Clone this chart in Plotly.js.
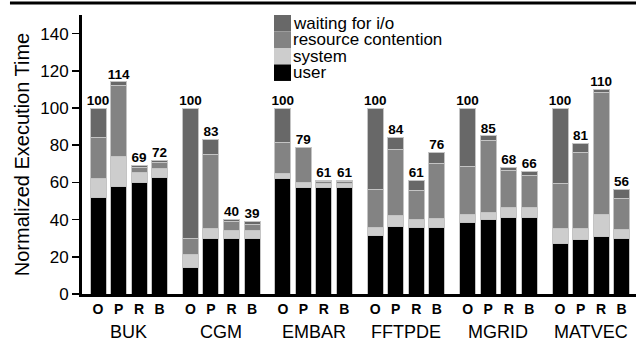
<!DOCTYPE html>
<html>
<head>
<meta charset="utf-8">
<script src="https://cdn.plot.ly/plotly-3.0.1.min.js"></script>
<style>html,body{margin:0;padding:0;background:#fff;}#chart{width:637px;height:345px;}</style>
</head>
<body>
<div id="chart"></div>
<script>
var groups = ["BUK", "CGM", "EMBAR", "FFTPDE", "MGRID", "MATVEC"];
var variants = ["O", "P", "R", "B"];
var yTicks = [0, 20, 40, 60, 80, 100, 120, 140];
var seriesNames = ["user", "system", "resource contention", "waiting for i/o"];
var seriesColors = ["#000000", "#cdcdcd", "#838383", "#686868"];

// values per bar, order: group by group, variants O,P,R,B
var user     = [52, 58, 60, 62.5,   14, 30, 30, 30,     62, 57.5, 57.5, 57.5,  31.5, 36.5, 36, 35.5,  38.5, 40, 41, 41,   27, 29.5, 31, 30];
var system   = [10, 16, 5.5, 5,     7, 5, 4, 4,         3, 2.5, 2, 2,          4.5, 5.5, 4, 5,       4.5, 4, 5.5, 5.5,   8, 5.5, 12, 4.5];
var resource = [22, 38, 2.5, 3,     9, 40, 5, 3.5,      16.5, 19, 0.8, 0.8,    20, 35.5, 15.5, 29.5, 25.5, 38.5, 20, 17, 24.5, 41, 65.5, 17];
var waiting  = [16, 2, 1, 1.5,      70, 8, 1, 1.5,      18.5, 0, 0.7, 0.7,     44, 6.5, 5.5, 6,      31.5, 2.5, 1.5, 2.5, 40.5, 5, 1.5, 4.5];
var totals   = [100, 114, 69, 72,   100, 83, 40, 39,    100, 79, 61, 61,       100, 84, 61, 76,      100, 85, 68, 66,    100, 81, 110, 56];

var FONT = "Liberation Sans, Arial, sans-serif";
var groupStep = 4.5;
var xs = [], xt = [];
groups.forEach(function (g, gi) {
  variants.forEach(function (v, vi) {
    xs.push(gi * groupStep + vi);
    xt.push(v);
  });
});

var outline = {color: "#c4c4c4", width: 1};
var seriesVals = [user, system, resource, waiting];
var data = seriesVals.map(function (vals, i) {
  return {type: "bar", name: seriesNames[i], x: xs, y: vals, width: 0.78,
          marker: {color: seriesColors[i], line: outline}, hoverinfo: "skip", showlegend: false};
});
data.push({type: "scatter", mode: "text", x: xs, y: totals, text: totals.map(String),
   textposition: "top center", showlegend: false, hoverinfo: "skip",
   textfont: {family: FONT, size: 13.5, color: "#000", weight: "bold"},
   cliponaxis: false});

var annotations = groups.map(function (g, gi) {
  return {x: gi * groupStep + 1.5, y: -0.136, xref: "x", yref: "paper", text: g,
          showarrow: false, yanchor: "middle",
          font: {family: FONT, size: 18, color: "#000"}};
});

// manual legend (top entry = last series)
var shapes = [{type: "line", xref: "paper", yref: "paper", x0: -0.13, x1: 1, y0: 1.043, y1: 1.043,
               line: {color: "#000", width: 3}}];
var legX0 = 0.3466, legX1 = 0.3773, legTop = 1.0, legStep = 0.0591;
for (var k = 0; k < seriesNames.length; k++) {
  var idx = seriesNames.length - 1 - k;
  var yt = legTop - k * legStep, yb = yt - legStep;
  shapes.push({type: "rect", xref: "paper", yref: "paper", x0: legX0, x1: legX1, y0: yb, y1: yt,
               fillcolor: seriesColors[idx], line: {width: 0}});
  annotations.push({xref: "paper", yref: "paper", x: 0.378, y: (yt + yb) / 2, xanchor: "left",
                    yanchor: "middle", showarrow: false, text: seriesNames[idx],
                    font: {family: FONT, size: 17, color: "#000"}});
}
// white backing for legend
shapes.unshift({type: "rect", xref: "paper", yref: "paper", x0: legX0, x1: legX1, y0: legTop - 4 * legStep - 0.05, y1: legTop,
                fillcolor: "#fff", line: {width: 0}, layer: "above"});

var layout = {
  width: 637, height: 345,
  margin: {l: 82, r: 1, t: 15, b: 51},
  paper_bgcolor: "#fff", plot_bgcolor: "#fff",
  barmode: "stack",
  font: {family: FONT, color: "#000"},
  xaxis: {range: [-0.78, 26.2], tickvals: xs, ticktext: xt, showgrid: false, zeroline: false,
          ticks: "", showline: true, linecolor: "#000", linewidth: 3,
          tickfont: {size: 14, weight: "bold"}, fixedrange: true},
  yaxis: {range: [0, 150], tickvals: yTicks, showgrid: false, zeroline: false,
          ticks: "outside", ticklen: 7, tickwidth: 1.5, tickcolor: "#000",
          showline: true, linecolor: "#000", linewidth: 3,
          tickfont: {size: 17}, title: {text: "Normalized Execution Time", font: {size: 20}, standoff: 6}},
  annotations: annotations,
  shapes: shapes,
  showlegend: false
};
Plotly.newPlot("chart", data, layout, {displayModeBar: false, staticPlot: true});
</script>
</body>
</html>
